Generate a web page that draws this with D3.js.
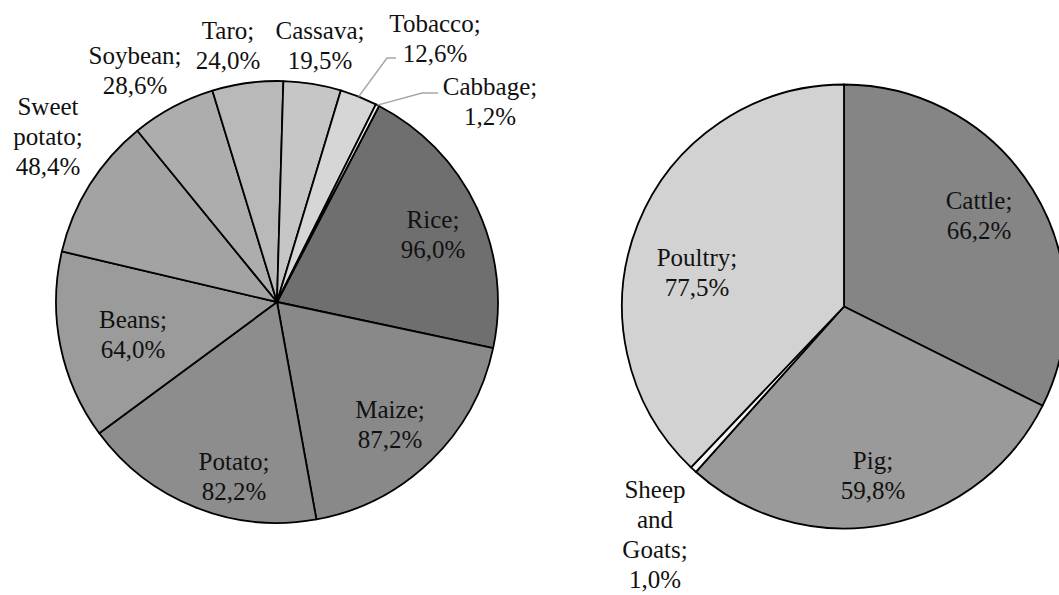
<!DOCTYPE html>
<html>
<head>
<meta charset="utf-8">
<script src="https://cdn.jsdelivr.net/npm/d3@7"></script>
<style>
  html, body { margin: 0; padding: 0; background: #ffffff; }
  svg { display: block; }
</style>
</head>
<body>
<script>
// ---------- DATA ----------
const cropCategories = ["Rice", "Maize", "Potato", "Beans", "Sweet potato", "Soybean", "Taro", "Cassava", "Tobacco", "Cabbage"];
const cropValues     = [96.0, 87.2, 82.2, 64.0, 48.4, 28.6, 24.0, 19.5, 12.6, 1.2];
const cropColors     = ["#6f6f6f", "#898989", "#8d8d8d", "#9b9b9b", "#a3a3a3", "#adadad", "#b9b9b9", "#c6c6c6", "#d6d6d6", "#f4f4f4"];
const cropLabelLines = [["Rice;"], ["Maize;"], ["Potato;"], ["Beans;"], ["Sweet", "potato;"], ["Soybean;"], ["Taro;"], ["Cassava;"], ["Tobacco;"], ["Cabbage;"]];

const livestockCategories = ["Cattle", "Pig", "Sheep and Goats", "Poultry"];
const livestockValues     = [66.2, 59.8, 1.0, 77.5];
const livestockColors     = ["#858585", "#9a9a9a", "#f4f4f4", "#d2d2d2"];
const livestockLabelLines = [["Cattle;"], ["Pig;"], ["Sheep", "and", "Goats;"], ["Poultry;"]];

// ---------- LAYOUT ----------
const W = 1059, H = 595;
const lineH = 30;
const leftPie  = { cx: 277, cy: 302, r: 221, rot: 27.5 };
const rightPie = { cx: 844, cy: 306.5, r: 222, rot: 0 };
const cropLabelPos = [[156, -74], [113, 116], [-43, 168], [-144, 26], [-229, -187], [-142, -238], [-49, -263], [43, -263], [158, -270], [213, -207]];
const livestockLabelPos = [[135, -97.5], [29, 162], [-189, 191.5], [-147, -40.5]];
const cropLeaders = { 8: [[110, -244], [119, -244]], 9: [[145, -209], [161, -209]] };

const fmt = v => d3.format(".1f")(v).replace(".", ",") + "%";

const svg = d3.select("body").append("svg").attr("width", W).attr("height", H);
svg.append("rect").attr("width", W).attr("height", H).attr("fill", "#fff");

function drawPie(cfg, cats, vals, colors, lines, labelPos, leaders) {
  const rad = cfg.rot * Math.PI / 180;
  const pie = d3.pie().sort(null).value(d => d).startAngle(rad).endAngle(rad + 2 * Math.PI);
  const arcs = pie(vals);
  const arc = d3.arc().innerRadius(0).outerRadius(cfg.r);
  const g = svg.append("g").attr("transform", `translate(${cfg.cx},${cfg.cy})`);

  g.selectAll("path.slice").data(arcs).join("path")
    .attr("class", "slice")
    .attr("d", arc)
    .attr("fill", (d, i) => colors[i])
    .attr("stroke", "#000")
    .attr("stroke-width", 1.8)
    .attr("stroke-linejoin", "round");

  Object.keys(leaders).forEach(k => {
    const d = arcs[+k];
    const mid = (d.startAngle + d.endAngle) / 2;
    const p0 = [cfg.r * Math.sin(mid), -cfg.r * Math.cos(mid)];
    g.append("path")
      .attr("d", d3.line()([p0].concat(leaders[k])))
      .attr("fill", "none")
      .attr("stroke", "#a6a6a6")
      .attr("stroke-width", 1.5);
  });

  // one <text> per label line
  const rows = [];
  arcs.forEach((d, i) => {
    lines[i].concat([fmt(vals[i])]).forEach((s, j) => {
      rows.push({ s, x: labelPos[i][0], y: labelPos[i][1] + j * lineH });
    });
  });
  g.selectAll("text.lab").data(rows).join("text")
    .attr("class", "lab")
    .attr("x", d => d.x)
    .attr("y", d => d.y)
    .attr("text-anchor", "middle")
    .attr("font-size", 25)
    .attr("fill", "#111")
    .style("font-family", '"Liberation Serif"')
    .text(d => d.s);
}

drawPie(leftPie, cropCategories, cropValues, cropColors, cropLabelLines, cropLabelPos, cropLeaders);
drawPie(rightPie, livestockCategories, livestockValues, livestockColors, livestockLabelLines, livestockLabelPos, {});
</script>
</body>
</html>
